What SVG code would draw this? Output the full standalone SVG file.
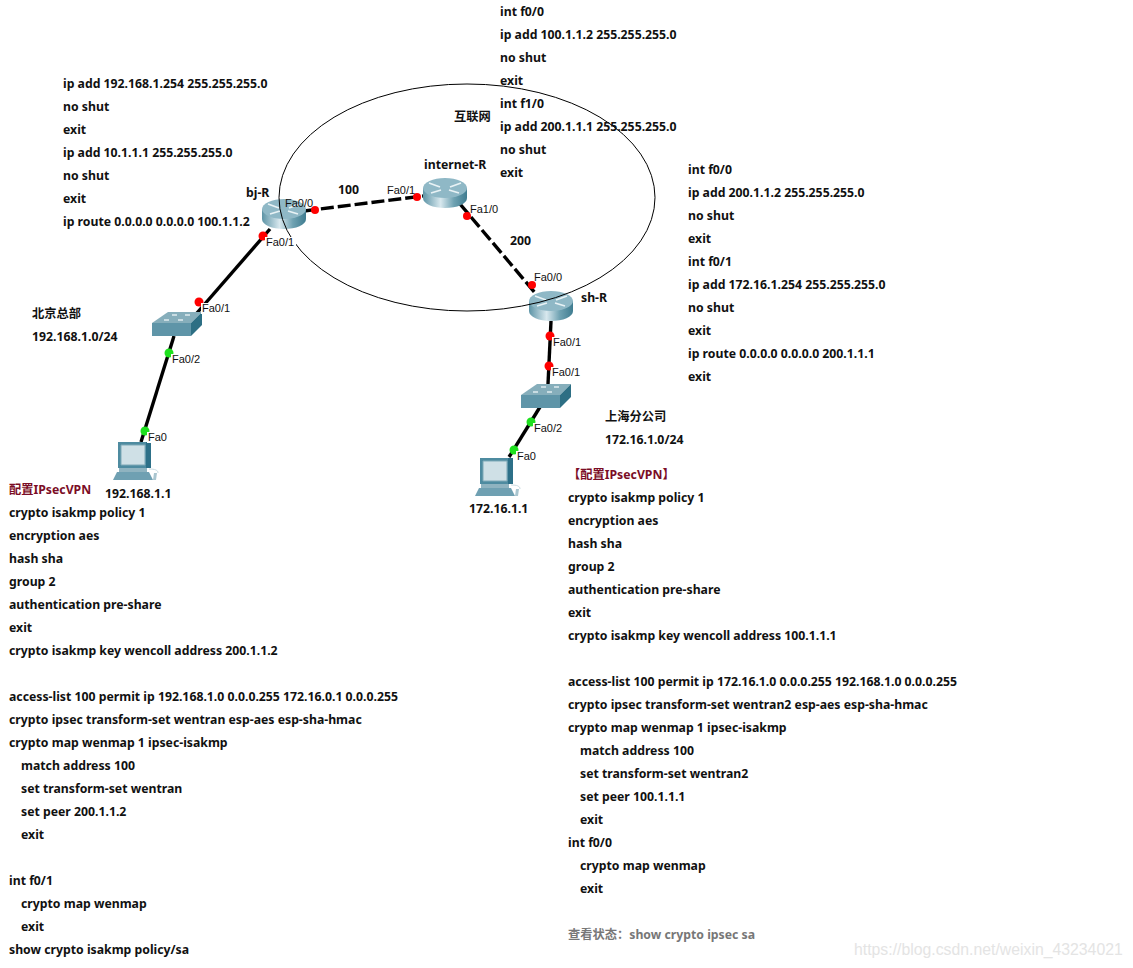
<svg xmlns="http://www.w3.org/2000/svg" width="1133" height="968" viewBox="0 0 1133 968">
<style>
text{font-family:"Noto Sans","Noto Sans CJK SC",sans-serif}
.t{font-size:12.25px;font-weight:700;fill:#111}
.r{fill:#7b0d26}
.g{fill:#777}
.p{font-size:11px;fill:#111;font-family:"Liberation Sans",sans-serif}
.w{fill:#fff}
.solid{stroke:#000;stroke-width:3.4;fill:none}
.dash{stroke:#000;stroke-width:3.4;fill:none;stroke-dasharray:13 4}
.red{fill:#f00}
.grn{fill:#1ee01e}
</style>
<defs>
<linearGradient id="rg" x1="0" x2="1" y1="0" y2="0"><stop offset="0" stop-color="#5d94a6"/><stop offset=".4" stop-color="#d8e8ee"/><stop offset=".7" stop-color="#6fa2b2"/><stop offset="1" stop-color="#3f7c90"/></linearGradient>
<g id="router">
<path d="M0 10V20C0 26 10 30 22 30S44 26 44 20V10Z" fill="url(#rg)"/>
<ellipse cx="22" cy="10" rx="22" ry="10" fill="#8fb8c6"/>
<path d="M6 5l11 4M38 5l-11 4M8 15l10-3M36 15l-10-3" stroke="#e8f2f5" stroke-width="1.8" fill="none"/>
</g>
<g id="switch">
<path d="M0 11L16 0H50L39 11Z" fill="#86aebb"/>
<path d="M0 11H39V24H0Z" fill="#5f95a8"/>
<path d="M39 11L50 0V13L39 24Z" fill="#2d6f84"/>
<path d="M12 8h5M26 8h5M20 3h5M33 3h5" stroke="#dfecef" stroke-width="1.6"/>
</g>
<g id="pc">
<path d="M5 0H38V26H5Z" fill="#4e8ba0"/>
<path d="M8 3H32V23H8Z" fill="#cfe0e6" stroke="#7fa9b7"/>
<path d="M33 0H38V26H33Z" fill="#2d7088"/>
<path d="M6 26H34V30H6Z" fill="#8fb3c0"/>
<path d="M4 30H36L40 38H0Z" fill="#6fa0b2"/>
<path d="M41 31h3l-1 7h-3Z" fill="#a9c5cf"/>
<path d="M36 27c6 0 9 1 9 4" fill="none" stroke="#c9dbe1"/>
</g>
</defs>
<rect width="1133" height="968" fill="#fff"/>
<g id="connectors">
<path class="dash" d="M304 211L423 196"/>
<path class="dash" d="M460 204L536 294"/>
<path class="solid" d="M270 229L190 321"/>
<path class="solid" d="M174 336L141 442"/>
<path class="solid" d="M551 321L548 384"/>
<path class="solid" d="M540 407L509 457"/>
</g>
<g id="node-bj-R"><use href="#router" x="262" y="199"/></g>
<g id="node-internet-R"><use href="#router" x="423" y="178"/></g>
<g id="node-sh-R"><use href="#router" x="529" y="291"/></g>
<g id="node-sw-bj"><use href="#switch" x="152" y="312"/></g>
<g id="node-sw-sh"><use href="#switch" x="521" y="384"/></g>
<g id="node-pc-bj"><use href="#pc" x="113" y="442"/></g>
<g id="node-pc-sh"><use href="#pc" x="475" y="458"/></g>
<g id="cloud"><ellipse cx="467" cy="197.5" rx="188" ry="113.5" fill="none" stroke="#000" stroke-width="1"/></g>
<g id="sockets">
<circle class="red" cx="315" cy="210" r="4"/><circle class="red" cx="417" cy="197" r="4"/>
<circle class="red" cx="467" cy="216" r="4"/><circle class="red" cx="532" cy="285" r="4"/>
<circle class="red" cx="263" cy="236" r="4.5"/><circle class="red" cx="199" cy="302" r="4.5"/>
<circle class="grn" cx="169" cy="353" r="4.5"/><circle class="grn" cx="145" cy="431" r="4.5"/>
<circle class="red" cx="550" cy="336" r="4.5"/><circle class="red" cx="549" cy="366" r="4.5"/>
<circle class="grn" cx="531" cy="422" r="4.5"/><circle class="grn" cx="514" cy="450" r="4.5"/>
</g>
<g id="port-labels">
<rect class="w" x="265" y="237" width="31" height="11"/><rect class="w" x="201" y="303" width="30" height="11"/><rect class="w" x="171" y="354" width="30" height="11"/><rect class="w" x="147" y="432" width="20" height="11"/><rect class="w" x="552" y="337" width="30" height="11"/><rect class="w" x="551" y="367" width="30" height="11"/><rect class="w" x="533" y="423" width="30" height="11"/><rect class="w" x="516" y="451" width="20" height="11"/>
<text class="p" x="285" y="207">Fa0/0</text>
<text class="p" x="387" y="194">Fa0/1</text>
<text class="p" x="470" y="213">Fa1/0</text>
<text class="p" x="534" y="281">Fa0/0</text>
<text class="p" x="266" y="246">Fa0/1</text>
<text class="p" x="202" y="312">Fa0/1</text>
<text class="p" x="172" y="363">Fa0/2</text>
<text class="p" x="148" y="441">Fa0</text>
<text class="p" x="553" y="346">Fa0/1</text>
<text class="p" x="552" y="376">Fa0/1</text>
<text class="p" x="534" y="432">Fa0/2</text>
<text class="p" x="517" y="460">Fa0</text>
</g>
<g id="labels" class="t">
<text x="246" y="197">bj-R</text>
<text x="424" y="169">internet-R</text>
<text x="581" y="302">sh-R</text>
<text x="338" y="194">100</text>
<text x="510" y="245">200</text>
<text x="454" y="121">互联网</text>
<text x="32" y="318">北京总部</text>
<text x="32" y="341">192.168.1.0/24</text>
<text x="605" y="421">上海分公司</text>
<text x="605" y="444">172.16.1.0/24</text>
<text x="105" y="498">192.168.1.1</text>
<text x="469" y="513">172.16.1.1</text>
</g>
<g id="config-internet" class="t">
<text x="500" y="16">int f0/0</text>
<text x="500" y="39">ip add 100.1.1.2 255.255.255.0</text>
<text x="500" y="62">no shut</text>
<text x="500" y="85">exit</text>
<text x="500" y="108">int f1/0</text>
<text x="500" y="131">ip add 200.1.1.1 255.255.255.0</text>
<text x="500" y="154">no shut</text>
<text x="500" y="177">exit</text>
</g>
<g id="config-bj" class="t">
<text x="63" y="88">ip add 192.168.1.254 255.255.255.0</text>
<text x="63" y="111">no shut</text>
<text x="63" y="134">exit</text>
<text x="63" y="157">ip add 10.1.1.1 255.255.255.0</text>
<text x="63" y="180">no shut</text>
<text x="63" y="203">exit</text>
<text x="63" y="226">ip route 0.0.0.0 0.0.0.0 100.1.1.2</text>
</g>
<g id="config-sh" class="t">
<text x="688" y="174">int f0/0</text>
<text x="688" y="197">ip add 200.1.1.2 255.255.255.0</text>
<text x="688" y="220">no shut</text>
<text x="688" y="243">exit</text>
<text x="688" y="266">int f0/1</text>
<text x="688" y="289">ip add 172.16.1.254 255.255.255.0</text>
<text x="688" y="312">no shut</text>
<text x="688" y="335">exit</text>
<text x="688" y="358">ip route 0.0.0.0 0.0.0.0 200.1.1.1</text>
<text x="688" y="381">exit</text>
</g>
<g id="ipsec-bj" class="t">
<text class="r" x="9" y="494">配置IPsecVPN</text>
<text x="9" y="517">crypto isakmp policy 1</text>
<text x="9" y="540">encryption aes</text>
<text x="9" y="563">hash sha</text>
<text x="9" y="586">group 2</text>
<text x="9" y="609">authentication pre-share</text>
<text x="9" y="632">exit</text>
<text x="9" y="655">crypto isakmp key wencoll address 200.1.1.2</text>
<text x="9" y="701">access-list 100 permit ip 192.168.1.0 0.0.0.255 172.16.0.1 0.0.0.255</text>
<text x="9" y="724">crypto ipsec transform-set wentran esp-aes esp-sha-hmac</text>
<text x="9" y="747">crypto map wenmap 1 ipsec-isakmp</text>
<text x="21" y="770">match address 100</text>
<text x="21" y="793">set transform-set wentran</text>
<text x="21" y="816">set peer 200.1.1.2</text>
<text x="21" y="839">exit</text>
<text x="9" y="885">int f0/1</text>
<text x="21" y="908">crypto map wenmap</text>
<text x="21" y="931">exit</text>
<text x="9" y="954">show crypto isakmp policy/sa</text>
</g>
<g id="ipsec-sh" class="t">
<text class="r" x="568" y="479">【配置IPsecVPN】</text>
<text x="568" y="502">crypto isakmp policy 1</text>
<text x="568" y="525">encryption aes</text>
<text x="568" y="548">hash sha</text>
<text x="568" y="571">group 2</text>
<text x="568" y="594">authentication pre-share</text>
<text x="568" y="617">exit</text>
<text x="568" y="640">crypto isakmp key wencoll address 100.1.1.1</text>
<text x="568" y="686">access-list 100 permit ip 172.16.1.0 0.0.0.255 192.168.1.0 0.0.0.255</text>
<text x="568" y="709">crypto ipsec transform-set wentran2 esp-aes esp-sha-hmac</text>
<text x="568" y="732">crypto map wenmap 1 ipsec-isakmp</text>
<text x="580" y="755">match address 100</text>
<text x="580" y="778">set transform-set wentran2</text>
<text x="580" y="801">set peer 100.1.1.1</text>
<text x="580" y="824">exit</text>
<text x="568" y="847">int f0/0</text>
<text x="580" y="870">crypto map wenmap</text>
<text x="580" y="893">exit</text>
<text class="g" x="568" y="939">查看状态：show crypto ipsec sa</text>
</g>
<text x="854" y="955" font-size="15.8" fill="#e4e4e4" style="font-family:'Liberation Sans',sans-serif">https://blog.csdn.net/weixin_43234021</text>
</svg>
